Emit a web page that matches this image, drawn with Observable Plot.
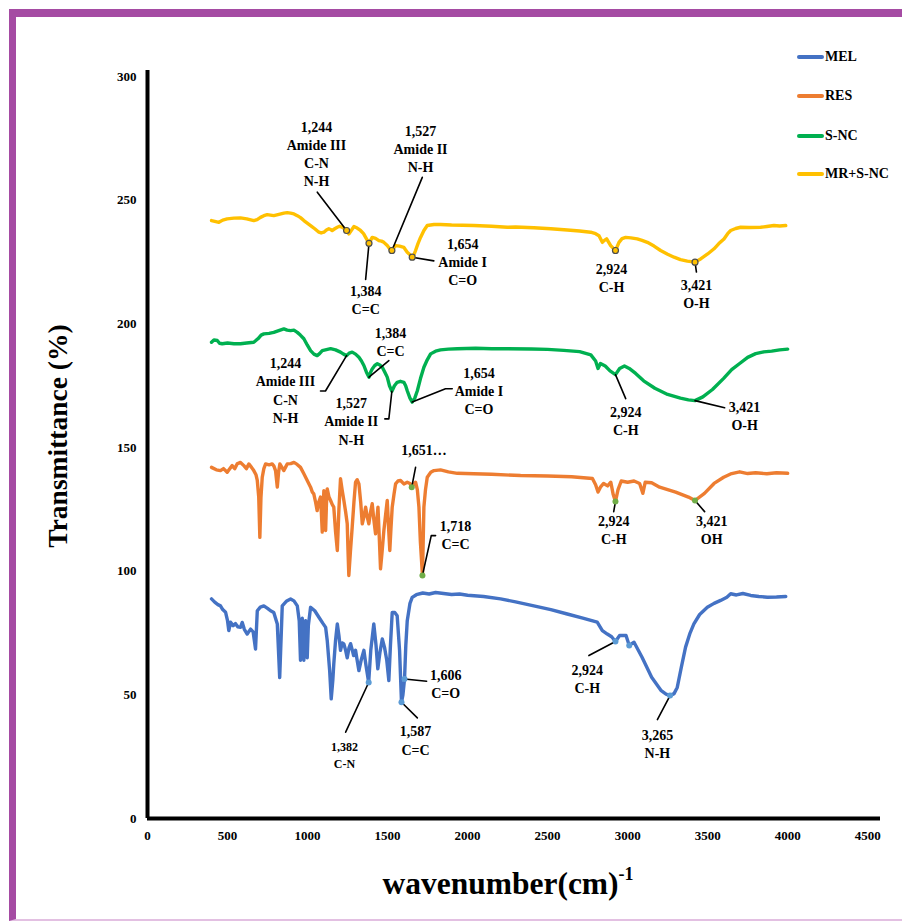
<!DOCTYPE html>
<html>
<head>
<meta charset="utf-8">
<script src="https://cdn.jsdelivr.net/npm/d3@7"></script>
<script src="https://cdn.jsdelivr.net/npm/@observablehq/plot@0.6"></script>
<style>
  body { margin: 0; background: #fff; }
  #wrap { position: relative; width: 902px; height: 921px; overflow: hidden; background: #fff;
          font-family: "Liberation Serif", "Times New Roman", serif; font-weight: bold; color: #000; }
  #frame { position: absolute; left: 9px; top: 9px; width: 905px; height: 912px; box-sizing: border-box;
           border-top: 8px solid #a54ba3; border-left: 7px solid #a54ba3; border-bottom: 2px solid #e3c0e2; }
  #chart { position: absolute; left: 0; top: 0; }
  .leg { position: absolute; left: 797px; height: 20px; display: flex; align-items: center; font-size: 14px; }
  .leg span.sw { display: inline-block; width: 27px; height: 3.5px; border-radius: 2px; margin-right: 1px; }
  #ylab { position: absolute; left: 58px; top: 436px; transform: translate(-50%, -50%) rotate(-90deg);
          font-size: 27.5px; white-space: nowrap; }
  #xlab { position: absolute; left: 508px; top: 883px; transform: translate(-50%, -50%);
          font-size: 31.5px; white-space: nowrap; }
  #xlab sup { font-size: 18px; vertical-align: 14px; }
</style>
</head>
<body>
<div id="wrap">
  <div id="frame"></div>
  <div id="chart"></div>
  <div id="ylab">Transmittance (%)</div>
  <div id="xlab">wavenumber(cm)<sup>-1</sup></div>
  <div id="legend"></div>
</div>
<script>
// ---------------- data ----------------
const seriesNames = ["MEL", "RES", "S-NC", "MR+S-NC"];
const seriesColors = ["#4472c4", "#ed7d31", "#00b050", "#ffc000"];
const xTicks = [0, 500, 1000, 1500, 2000, 2500, 3000, 3500, 4000, 4500];
const yTicks = [0, 50, 100, 150, 200, 250, 300];

// [wavenumber, transmittance]
const melPoints = [[400,88.8],[420,87.5],[440,86.5],[456,86],[470,84.5],[488,83.4],[500,80],[508,76],[519,79.4],[535,78],[550,78.8],[565,77.5],[581,77.3],[592,79.3],[605,76.5],[623,74.6],[644,76.6],[660,75.5],[675,68.5],[686,84],[705,85.5],[727,86],[750,85],[769,84],[789,83.3],[811,78.7],[826,57],[842,86],[870,88],[894,88.8],[915,88],[936,86],[948,80],[956,64],[962,78],[967,81],[972,70],[977,64],[983,78],[988,80],[993,72],[998,65],[1005,78],[1019,85.4],[1045,84],[1071,81.4],[1095,79],[1113,77.3],[1123,72],[1138,60],[1148,48.4],[1158,56],[1164,62.5],[1175,72],[1186,78.7],[1196,74],[1206,68],[1217,71],[1227,70.6],[1238,68],[1248,65],[1259,69],[1269,70.7],[1280,68],[1288,65.9],[1300,68],[1310,64],[1321,59.8],[1335,64],[1352,68],[1365,62],[1382,55],[1395,68],[1414,78.7],[1428,70],[1439,60.5],[1452,67],[1467,72.6],[1481,69.2],[1495,64],[1508,55.8],[1518,70],[1529,83.3],[1545,83.3],[1560,82],[1575,68],[1587,47],[1596,50],[1606,56.4],[1614,70],[1623,80],[1640,87],[1654,89.4],[1680,90.5],[1720,91.2],[1760,90.8],[1800,91.4],[1850,91],[1900,90.6],[1950,90.8],[2000,90.3],[2100,89.8],[2206,88.8],[2300,87.6],[2414,86],[2520,84.5],[2623,82.7],[2720,81],[2810,79.4],[2842,76],[2873,74.6],[2900,73.5],[2924,71.6],[2950,74],[2990,74],[3010,70],[3040,71.3],[3090,65.2],[3150,57.1],[3210,51.7],[3240,50.3],[3265,49.7],[3290,50.5],[3310,53],[3335,61],[3362,69.3],[3390,75],[3414,78.7],[3450,82.5],[3498,85.4],[3540,87],[3581,88.2],[3620,89.5],[3644,90.9],[3680,90.4],[3720,91],[3769,90.2],[3820,89.8],[3873,89.5],[3930,89.6],[3988,89.8]];

const resPoints = [[400,142],[430,141],[456,140.7],[475,141.5],[498,140],[515,141.5],[529,142.7],[545,141.5],[560,143.4],[581,144],[602,142.7],[618,141.5],[633,143.4],[650,142],[664,140.7],[678,139],[686,136.7],[695,130],[702,113.7],[709,130],[717,138],[727,141.5],[738,143.4],[760,143],[779,143.4],[790,142.5],[800,140.7],[811,134],[819,140],[827,143.4],[840,142],[852,140.7],[862,142],[873,143.4],[895,143.5],[915,144],[935,143.2],[956,142],[977,139.4],[998,136.7],[1019,134],[1030,132],[1039,131.3],[1050,128],[1060,124.5],[1070,128],[1081,130],[1086,124],[1092,115.8],[1097,125],[1102,132.6],[1108,126],[1113,116.5],[1118,127],[1123,133.3],[1134,130],[1144,128.6],[1154,127],[1164,125.9],[1175,116],[1186,108.4],[1196,125],[1206,137.4],[1216,133],[1227,128.6],[1238,124],[1248,119.2],[1253,108],[1258,98.3],[1268,108],[1279,117.8],[1290,128],[1300,136],[1310,137],[1321,135.3],[1332,128],[1342,119.2],[1352,122],[1363,125.9],[1373,122],[1383,119.2],[1394,124],[1404,127.3],[1414,121],[1425,115.1],[1432,120],[1440,125.9],[1448,114],[1456,101],[1466,108],[1477,116.5],[1488,123],[1498,128.6],[1506,118],[1514,108.4],[1521,117],[1529,125.9],[1540,131],[1550,135.3],[1565,136.5],[1581,136.7],[1602,135.3],[1623,136],[1640,135.5],[1651,134],[1662,135],[1675,136],[1686,133],[1696,125.9],[1705,112],[1718,98.3],[1722,110],[1727,125.9],[1737,133],[1748,138],[1770,140],[1790,140.7],[1831,141],[1880,140.2],[1936,139.6],[2039,139.4],[2150,139.2],[2331,138.7],[2500,138.5],[2650,138.2],[2780,137.5],[2800,135],[2815,132],[2830,134],[2850,135.5],[2875,134.5],[2895,136],[2910,131],[2924,128.2],[2940,133],[2960,136.5],[3000,136],[3040,136.5],[3075,135.5],[3095,131.5],[3110,136],[3150,135.8],[3200,134],[3300,132],[3380,130],[3421,128.6],[3480,131.5],[3540,135.5],[3600,138],[3650,139.5],[3700,140.2],[3750,139.5],[3800,139.8],[3870,139.4],[3930,139.8],[4000,139.6]];

const sncPoints = [[400,192.6],[415,193.5],[436,193.3],[450,192.2],[467,192],[500,192.3],[540,192],[581,192],[620,192.3],[664,192.6],[690,194],[710,195.5],[727,196],[760,196.2],[789,196.6],[820,197.3],[852,198],[873,197.5],[894,197.3],[915,197.5],[936,196.6],[955,195.5],[977,194],[998,191.5],[1019,189.2],[1040,187.8],[1060,187.2],[1075,188],[1092,189.2],[1118,189.6],[1144,190],[1175,189.5],[1206,188.6],[1225,187.8],[1244,187.2],[1260,188.2],[1279,188.6],[1300,187.8],[1321,186.5],[1337,185],[1352,183.2],[1368,180.5],[1384,178.5],[1394,180.5],[1404,181.8],[1420,183.2],[1436,183.9],[1452,183.4],[1467,182.5],[1483,180.5],[1498,178.5],[1512,175],[1527,172.8],[1543,175],[1560,176.4],[1580,176.8],[1602,176.4],[1613,175],[1623,173],[1640,170],[1654,168.4],[1670,170],[1686,173],[1706,178],[1727,182.5],[1748,185.5],[1769,187.9],[1800,189],[1831,189.5],[1880,189.8],[1936,190],[2050,190.2],[2150,190],[2248,190],[2400,189.9],[2500,189.7],[2600,189.3],[2700,188.8],[2770,187.5],[2800,185],[2815,182],[2830,184],[2860,183],[2890,181],[2924,179.5],[2950,182],[2980,183],[3010,182],[3050,180],[3100,177],[3170,174],[3250,171.5],[3330,170],[3380,169.3],[3421,169],[3470,170.5],[3530,173.5],[3600,178],[3650,181.5],[3700,184],[3750,186.5],[3800,188],[3850,188.7],[3900,189],[3950,189.5],[4000,189.8]];

const mixPoints = [[400,241.8],[420,241.5],[446,241.1],[470,242],[498,242.5],[540,242.8],[581,242.9],[620,242.5],[664,241.8],[685,242.2],[706,243.1],[727,243.8],[748,244.2],[768,244],[789,243.8],[815,244.2],[852,244.8],[873,245],[894,244.8],[915,244.5],[936,243.8],[956,243],[977,241.8],[998,240.8],[1019,239.8],[1045,238.5],[1071,237.1],[1085,236.8],[1102,237.1],[1118,238],[1133,238.5],[1144,238.2],[1154,237.8],[1170,238.5],[1186,239.1],[1200,239.5],[1217,239.1],[1230,238.6],[1244,237.8],[1258,236.4],[1270,237.5],[1290,239.4],[1310,238.8],[1331,237.8],[1350,236.5],[1363,235],[1384,232.6],[1404,235],[1425,234.6],[1446,233.7],[1462,233.5],[1477,233],[1498,231.7],[1512,230.5],[1527,229.7],[1540,230.8],[1550,231.7],[1575,231.5],[1602,231],[1612,230],[1623,229],[1640,228],[1654,227],[1665,228],[1675,229.7],[1690,232.5],[1706,235],[1727,237.8],[1748,239.8],[1790,240.2],[1831,240.2],[1900,240],[2039,239.8],[2150,239.5],[2248,239.1],[2300,239.2],[2414,238.9],[2520,238.5],[2623,238],[2700,237.6],[2769,237.1],[2800,236.5],[2821,235.7],[2842,233],[2855,233.8],[2869,234.4],[2894,231.7],[2924,229.7],[2946,233],[2965,234.5],[2988,235],[3020,234.8],[3060,234.4],[3090,233.8],[3123,233],[3165,231.5],[3206,229.7],[3250,228.2],[3290,227],[3330,226],[3373,225.4],[3421,225],[3456,226.3],[3500,228.3],[3540,230.4],[3570,232.5],[3602,234.4],[3625,236.5],[3644,237.8],[3675,238.6],[3706,239.1],[3760,239],[3831,239.1],[3870,239.4],[3914,239.8],[3950,239.6],[3988,239.8]];

// annotations: series, label, marked peak, label centre, leader points (label side -> peak)
const annSeries = ["MR+S-NC","MR+S-NC","MR+S-NC","MR+S-NC","MR+S-NC","MR+S-NC",
                   "S-NC","S-NC","S-NC","S-NC","S-NC","S-NC",
                   "RES","RES","RES","RES",
                   "MEL","MEL","MEL","MEL","MEL"];
const annLabels = ["1,244\nAmide III\nC-N\nN-H","1,527\nAmide II\nN-H","1,654\nAmide I\nC=O","1,384\nC=C","2,924\nC-H","3,421\nO-H",
                   "1,244\nAmide III\nC-N\nN-H","1,384\nC=C","1,527\nAmide II\nN-H","1,654\nAmide I\nC=O","2,924\nC-H","3,421\nO-H",
                   "1,651…","1,718\nC=C","2,924\nC-H","3,421\nOH",
                   "1,382\nC-N","1,587\nC=C","1,606\nC=O","2,924\nC-H","3,265\nN-H"];
const peakX = [1244,1527,1654,1384,2924,3421, 1244,1384,1527,1654,2924,3421, 1651,1718,2924,3421, 1382,1587,1606,2924,3265];
const peakY = [237.8,229.7,227,232.6,229.7,225, 187.2,178.5,172.8,168.4,179.5,169, 134,98.3,128.2,128.6, 55,47,56.4,71.6,49.7];
const labelX = [1056,1706,1969,1363,2899,3430, 862,1519,1273,2071,2988,3731, 1727,1925,2913,3525, 1231,1675,1863,2748,3186];
const labelY = [269.1,271.2,225.4,210,218.9,212.5, 173.4,193,160.9,173.1,161.1,163.2, 149.2,115.1,116.9,116.9, 26,31.9,54.8,56.7,30.5];
const leaderPoints = [
  [[1061,253.3]], [[1717,259.3]], [[1789,225.5]], [[1363,218]], [], [[3430,221]],
  [[1081,172.9],[1112,172.9]], [[1508,185.2]], [[1483,161.6],[1508,161.6]], [[1904,173.8],[1862,173.8]], [[2988,169.8]], [[3606,166.1]],
  [[1675,142]], [[1800,114.4],[1773,114.4]], [[2913,124.1]], [[3481,124.1]],
  [[1238,34.9]], [[1686,40.7]], [[1744,55.5]], [[2758,65.9]], [[3186,40]]
];
// extra unlabeled marker on MEL
const extraMarkX = [3010];
const extraMarkY = [70];

// ---------------- build ----------------
const seriesPoints = [melPoints, resPoints, sncPoints, mixPoints];
const rows = seriesPoints.flatMap((pts, i) => pts.map(([wn, t]) => ({series: seriesNames[i], wn, t})));

const anns = annLabels.map((label, i) => ({
  id: i, series: annSeries[i], label, px: peakX[i], py: peakY[i], tx: labelX[i], ty: labelY[i]
}));
const leaderRows = anns.flatMap((a, i) =>
  leaderPoints[i].length ? [...leaderPoints[i].map(([x, y]) => ({id: i, x, y})), {id: i, x: a.px, y: a.py}] : []);

const markers = anns.filter(a => a.series !== "S-NC").map(a => ({series: a.series, x: a.px, y: a.py}))
  .concat(extraMarkX.map((x, i) => ({series: "MEL", x, y: extraMarkY[i]})));

const markerFill = {"MEL": "#5b9bd5", "RES": "#70ad47", "MR+S-NC": "#ffc000"};
const markerStroke = {"MEL": "none", "RES": "none", "MR+S-NC": "#4d4d4d"};

const chart = Plot.plot({
  width: 902,
  height: 921,
  marginLeft: 147,
  marginRight: 22,
  marginTop: 70,
  marginBottom: 103,
  style: {background: "transparent", fontFamily: "'Liberation Serif', 'Times New Roman', serif",
          fontWeight: "bold", color: "#000", overflow: "visible"},
  x: {domain: [0, 4580], label: null},
  y: {domain: [0, 302.5], label: null},
  color: {domain: seriesNames, range: seriesColors},
  marks: [
    Plot.axisX({ticks: xTicks, tickSize: 0, tickPadding: 12, fontSize: 13, label: null, tickFormat: d => String(d)}),
    Plot.axisY({ticks: yTicks, tickSize: 0, tickPadding: 11, fontSize: 13, label: null, tickFormat: d => String(d)}),
    Plot.line(rows, {x: "wn", y: "t", z: "series", stroke: "series", strokeWidth: 3.4, strokeLinejoin: "round"}),
    Plot.line(leaderRows, {x: "x", y: "y", z: "id", stroke: "#000", strokeWidth: 1.6}),
    Plot.dot(markers, {x: "x", y: "y", r: 3, fill: d => markerFill[d.series], stroke: d => markerStroke[d.series], strokeWidth: 1.2}),
    Plot.text(anns.filter(a => a.id !== 16), {x: "tx", y: "ty", text: "label", fontSize: 14, lineHeight: 1.3, fill: "#000"}),
    Plot.text(anns.filter(a => a.id === 16), {x: "tx", y: "ty", text: "label", fontSize: 12, lineHeight: 1.4, fill: "#000"}),
    Plot.ruleX([0], {strokeWidth: 4, stroke: "#000"}),
    Plot.ruleY([0], {strokeWidth: 4, stroke: "#000"})
  ]
});
document.getElementById("chart").appendChild(chart);

// legend
const legendTops = [47, 86, 126, 164];
const legend = document.getElementById("legend");
seriesNames.forEach((name, i) => {
  const d = document.createElement("div");
  d.className = "leg";
  d.style.top = legendTops[i] + "px";
  d.innerHTML = `<span class="sw" style="background:${seriesColors[i]}"></span>${name}`;
  legend.appendChild(d);
});
</script>
</body>
</html>
